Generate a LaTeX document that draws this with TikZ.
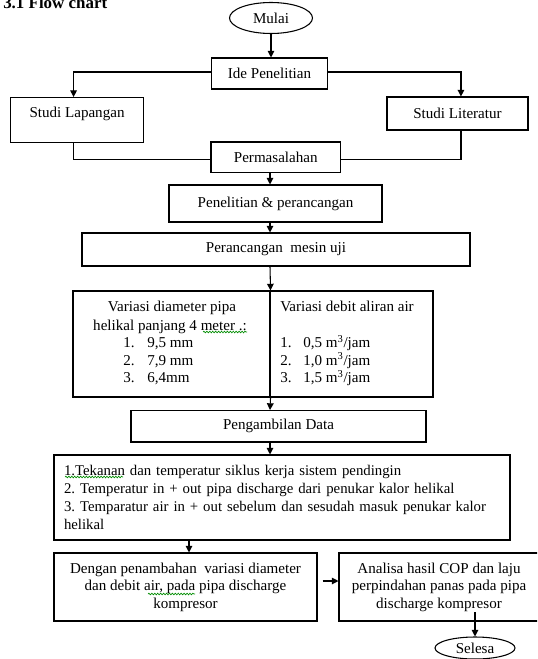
\documentclass[tikz,border=0pt]{standalone}
\usepackage{fontspec}
\setmainfont{Liberation Serif}
\usetikzlibrary{arrows.meta,shapes.geometric,decorations.pathmorphing}
\newcommand{\fsz}{\fontsize{11.3}{13.2}\selectfont\frenchspacing}
\newcommand{\fszb}{\fontsize{11.1}{13.4}\selectfont\frenchspacing}
\begin{document}
\begin{tikzpicture}[x=0.75pt,y=-0.75pt,
  box/.style={draw, line width=0.8pt, rectangle, inner sep=0pt, align=center, font=\fsz},
  oval/.style={draw, line width=0.8pt, ellipse, inner sep=0pt, font=\fsz},
  txt/.style={inner sep=0pt, font=\fsz},
  arr/.style={line width=0.8pt, -{Triangle[length=5pt,width=5pt]}},
  ln/.style={line width=0.8pt},
  wavy/.style={draw=green!55!black, line width=0.5pt, decorate, decoration={snake, segment length=2.2pt, amplitude=0.6pt}}]
\clip (0,0) rectangle (537,659);
\coordinate (axis) at (270,0);
\coordinate (dx) at (189,0);
\node[txt, anchor=base west, font=\fontsize{12.7}{15}\selectfont\bfseries] (title) at (3,9) {3.1 Flow chart};
\node[oval, minimum width=62.25pt, minimum height=23.25pt] (mulai) at (271,18) {Mulai};
\node[box, minimum width=87pt, minimum height=23.25pt] (ide) at (269.5,73.5) {Ide Penelitian};
\node[box, anchor=north west, minimum width=99.75pt, text height=15pt, text depth=18.75pt] (lap) at (10,97) {Studi Lapangan};
\node[box, minimum width=105.75pt, minimum height=24.75pt] (lit) at (457.5,113.5) {Studi Literatur};
\node[box, minimum width=97.1pt, minimum height=22.9pt] (perm) at (275.75,157.25) {Permasalahan};
\node[box, minimum width=159.75pt, minimum height=27.75pt] (pen) at (275.5,203.5) {Penelitian \& perancangan};
\node[box, minimum width=291pt, minimum height=24.75pt] (mesin) at (276,249.5) {Perancangan\ \ mesin uji};
\node[box, minimum width=147.75pt, minimum height=79.5pt] (varL) at (171.5,344) {};
\node[box, minimum width=122.25pt, minimum height=79.5pt] (varR) at (351.5,344) {};
\node[txt, anchor=base] (vl1) at (172,311.5) {Variasi diameter pipa};
\node[txt, anchor=base] (vl2) at (170,330) {helikal panjang 4 meter .:};
\node[txt, anchor=base west] (vn1) at (123,347.5) {1.};
\node[txt, anchor=base west] (vv1) at (147,347.5) {9,5 mm};
\node[txt, anchor=base west] (vn2) at (123,365) {2.};
\node[txt, anchor=base west] (vv2) at (147,365) {7,9 mm};
\node[txt, anchor=base west] (vn3) at (123,382.5) {3.};
\node[txt, anchor=base west] (vv3) at (147,382.5) {6,4mm};
\node[txt, anchor=base west] (vr1) at (280,311.5) {Variasi debit aliran air};
\node[txt, anchor=base west] (rn1) at (280,347.5) {1.};
\node[txt, anchor=base west] (rv1) at (303,347.5) {0,5 m\textsuperscript{3}/jam};
\node[txt, anchor=base west] (rn2) at (280,365) {2.};
\node[txt, anchor=base west] (rv2) at (303,365) {1,0 m\textsuperscript{3}/jam};
\node[txt, anchor=base west] (rn3) at (280,382.5) {3.};
\node[txt, anchor=base west] (rv3) at (303,382.5) {1,5 m\textsuperscript{3}/jam};
\node[box, minimum width=221.25pt, minimum height=23.6pt] (data) at (278.5,426.25) {Pengambilan Data};
\node[box, minimum width=342pt, minimum height=63.75pt, text width=327pt, align=left, font=\fszb] (big) at (282,497.5)
  {1.Tekanan dan temperatur siklus kerja sistem pendingin\\
   2. Temperatur in + out pipa discharge dari penukar kalor helikal\\
   \makebox[318pt][s]{3. Temparatur air in + out sebelum dan sesudah masuk penukar kalor}\\
   helikal};
\node[box, minimum width=197.25pt, minimum height=51pt] (dengan) at (185.5,587)
  {Dengan penambahan\ \ variasi diameter\\dan debit air, pada pipa discharge\\kompresor};
\node[box, minimum width=150pt, minimum height=51pt] (analisa) at (439,587)
  {Analisa hasil COP dan laju\\perpindahan panas pada pipa\\discharge kompresor};
\node[oval, minimum width=60pt, minimum height=16.5pt] (selesa) at (475,648) {Selesa};
\coordinate (anout) at (475,612);
\draw[arr] (mulai.south) -- (mulai.south |- ide.north);
\draw[arr] ([yshift=1.1pt]ide.west) -| ([xshift=-2.6pt]lap.north);
\draw[arr] ([yshift=1.1pt]ide.east) -| ([xshift=2.6pt]lit.north);
\draw[ln] ([xshift=-2.6pt]lap.south) |- ([yshift=-2pt]perm.west);
\draw[ln] ([xshift=2.6pt]lit.south) |- ([yshift=-2pt]perm.east);
\draw[arr] (perm.south -| axis) -- (pen.north -| axis);
\draw[arr] (pen.south -| axis) -- (mesin.north -| axis);
\draw[arr] (mesin.south -| axis) -- (varL.north east);
\draw[arr] (varL.south east) -- (data.north -| axis);
\draw[arr] (data.south -| axis) -- (big.north -| axis);
\draw[arr] (big.south -| dx) -- (dengan.north -| dx);
\draw[arr, shorten <=3.75pt] ([yshift=4.5pt]dengan.east) -- ([yshift=4.5pt]analisa.west);
\draw[arr] (anout) -- (selesa.north);
\draw[wavy] (203,332) -- (247,332);
\draw[wavy] (65,477) -- (123,477);
\draw[wavy] (148,594) -- (195,594);
\end{tikzpicture}
\end{document}
